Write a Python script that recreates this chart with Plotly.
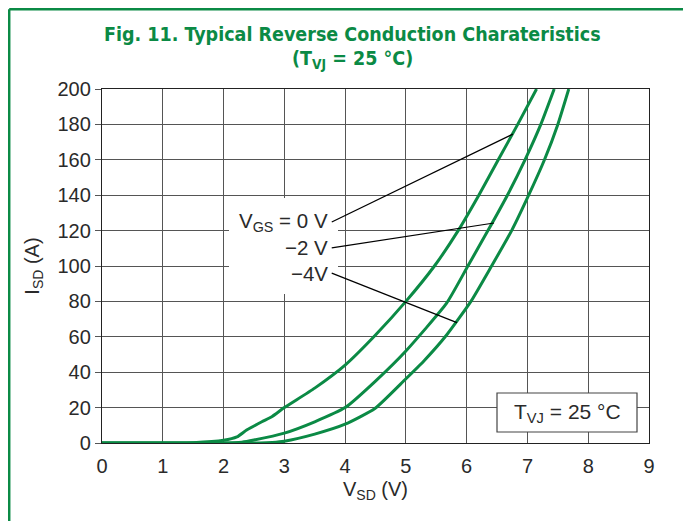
import plotly.graph_objects as go

# ---------------- data ----------------
vsd_0v = [0, 1.0, 1.5, 2.0, 2.22, 2.38, 2.63, 2.8, 3.0, 3.5, 4.0, 4.5, 5.0, 5.47, 5.86, 6.2, 6.52, 6.84, 7.15]
isd_0v = [0, 0, 0.2, 1.5, 3.4, 7.3, 12, 15, 20, 31, 44, 61, 80, 100, 120, 140, 160, 180, 200]

vsd_2v = [0, 2.0, 2.3, 2.5, 3.0, 3.5, 4.0, 4.5, 5.0, 5.67, 6.02, 6.35, 6.67, 6.96, 7.22, 7.44]
isd_2v = [0, 0, 0.5, 1.7, 5.6, 12, 20, 35, 52, 79, 100, 120, 140, 160, 180, 200]

vsd_4v = [0, 2.6, 2.8, 3.0, 3.5, 4.0, 4.49, 4.98, 5.3, 5.67, 6.07, 6.41, 6.74, 7.02, 7.28, 7.5, 7.68]
isd_4v = [0, 0, 0.3, 1, 5, 10.6, 19.5, 35.6, 46.5, 61, 80, 100, 120, 140, 160, 180, 200]

x_ticks = [0, 1, 2, 3, 4, 5, 6, 7, 8, 9]
y_ticks = [0, 20, 40, 60, 80, 100, 120, 140, 160, 180, 200]

labels = ["V<sub>GS</sub> = 0 V", "\u22122 V", "\u22124V"]
# leader line: label-end point -> point on curve (data units)
leader_start = [(3.78, 124.9), (3.78, 110.2), (3.78, 96.0)]
leader_end = [(6.76, 174.5), (6.45, 124.3), (5.84, 68.0)]

# ---------------- layout geometry ----------------
# the page has an 8px body margin, so page pixel p maps to figure pixel p-8
OFF = 8
W, H = 683, 513
L, R, T, B = 102 - OFF, 42, 89 - OFF, 78
PW, PH = W - L - R, H - T - B


def px(x):
    return (x - OFF - L) / PW


def py(y):
    return (H - B - (y - OFF)) / PH


GREEN = "#0b8a45"
TXT = "#2a2a2a"
FONT = "Liberation Sans, Arial, Helvetica, sans-serif"
TFONT = "DejaVu Sans Condensed, Liberation Sans Narrow, Arial Narrow, sans-serif"

fig = go.Figure()

for xs, ys in [(vsd_0v, isd_0v), (vsd_2v, isd_2v), (vsd_4v, isd_4v)]:
    fig.add_trace(go.Scatter(x=xs, y=ys, mode="lines",
                             line=dict(color=GREEN, width=3, shape="spline", smoothing=0.5),
                             showlegend=False, hoverinfo="skip"))

shapes = [
    # white patch behind the labels (covers the grid there)
    dict(type="rect", xref="paper", yref="paper", x0=px(229), x1=px(338), y0=py(294), y1=py(198),
         fillcolor="white", line=dict(width=0), layer="above"),
]
# leader lines, drawn above the white patch
for (x0, y0), (x1, y1) in zip(leader_start, leader_end):
    shapes.append(dict(type="line", xref="x", yref="y", x0=x0, y0=y0, x1=x1, y1=y1,
                       line=dict(color="black", width=1.2), layer="above"))
shapes += [
    # TVJ box
    dict(type="rect", xref="paper", yref="paper", x0=px(497), x1=px(637), y0=py(432), y1=py(393),
         fillcolor="white", line=dict(color="#444", width=1.2), layer="above"),
    # green page frame (top and left)
    dict(type="line", xref="paper", yref="paper", x0=px(9.2), x1=px(9.2), y0=py(9.2), y1=py(530),
         line=dict(color=GREEN, width=2.5), layer="above"),
    dict(type="line", xref="paper", yref="paper", x0=px(9.2), x1=px(700), y0=py(9.2), y1=py(9.2),
         line=dict(color=GREEN, width=2.5), layer="above"),
]

annotations = [
    dict(text="<b>Fig. 11. Typical Reverse Conduction Charateristics</b>", xref="paper", yref="paper",
         x=px(352), y=py(34), showarrow=False, font=dict(family=TFONT, size=19.5, color=GREEN),
         xanchor="center", yanchor="middle"),
    dict(text="<b>(T<sub>VJ</sub> = 25 \u00b0C)</b>", xref="paper", yref="paper",
         x=px(352), y=py(59), showarrow=False, font=dict(family=TFONT, size=19.5, color=GREEN),
         xanchor="center", yanchor="middle"),
    dict(text="T<sub>VJ</sub> = 25 \u00b0C", xref="paper", yref="paper", x=px(567), y=py(413),
         showarrow=False, font=dict(family=FONT, size=21, color=TXT), xanchor="center", yanchor="middle"),
]
for lab, yy in zip(labels, [222, 247, 273]):
    annotations.append(dict(text=lab, xref="paper", yref="paper", x=px(330), y=py(yy), showarrow=False,
                            font=dict(family=FONT, size=20.5, color=TXT), xanchor="right", yanchor="middle"))

fig.update_layout(
    width=W, height=H,
    margin=dict(l=L, r=R, t=T, b=B, pad=0),
    paper_bgcolor="white", plot_bgcolor="white",
    shapes=shapes, annotations=annotations,
    font=dict(family=FONT, size=20, color=TXT),
)

fig.update_xaxes(range=[0, 9], tickvals=x_ticks, ticktext=[str(v) for v in x_ticks],
                 showgrid=True, gridcolor="#555", gridwidth=1.4,
                 showline=True, linecolor="#222", linewidth=1.4, mirror=True,
                 ticks="", ticklabelstandoff=5, zeroline=False,
                 tickfont=dict(family=FONT, size=20, color=TXT),
                 title=dict(text="V<sub>SD</sub> (V)", font=dict(family=FONT, size=20, color=TXT), standoff=5))
fig.update_yaxes(range=[0, 200], tickvals=y_ticks, ticktext=[str(v) for v in y_ticks],
                 showgrid=True, gridcolor="#555", gridwidth=1.4,
                 showline=True, linecolor="#222", linewidth=1.4, mirror=True,
                 ticks="outside", ticklen=6, tickcolor="#555", tickwidth=1.4, zeroline=False,
                 tickfont=dict(family=FONT, size=20, color=TXT),
                 title=dict(text="I<sub>SD</sub> (A)", font=dict(family=FONT, size=20, color=TXT), standoff=12))

fig.write_html("out.html")
